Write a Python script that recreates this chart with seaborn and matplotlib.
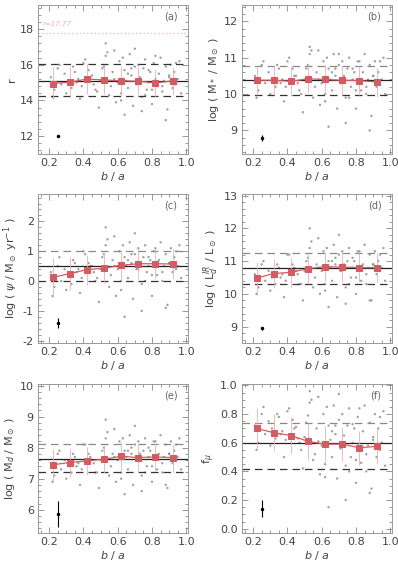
import numpy as np
import pandas as pd
import matplotlib
matplotlib.use("Agg")
import matplotlib.pyplot as plt
from matplotlib.ticker import AutoMinorLocator
import seaborn as sns

# ─── Data ─────────────────────────────────────────────────────────────────────

# b/a of the individual galaxies (shared by all panels)
BA = [0.21, 0.23, 0.25, 0.27, 0.29, 0.22, 0.26, 0.31, 0.33, 0.35,
      0.30, 0.34, 0.37, 0.39, 0.41, 0.36, 0.38, 0.43, 0.45, 0.47,
      0.40, 0.44, 0.46, 0.49, 0.51, 0.53, 0.48, 0.50, 0.52, 0.55,
      0.57, 0.54, 0.56, 0.58, 0.59, 0.61, 0.60, 0.62, 0.64, 0.63,
      0.65, 0.66, 0.67, 0.68, 0.69, 0.70, 0.71, 0.72, 0.73, 0.74,
      0.75, 0.76, 0.77, 0.78, 0.79, 0.80, 0.81, 0.82, 0.83, 0.84,
      0.85, 0.86, 0.87, 0.88, 0.89, 0.90, 0.91, 0.92, 0.93, 0.94,
      0.95, 0.96, 0.97, 0.58, 0.62, 0.66, 0.70, 0.74, 0.78, 0.82,
      0.86, 0.90, 0.94, 0.64, 0.72, 0.80, 0.88, 0.53, 0.68, 0.76]

R_MAG = [15.3, 14.6, 15.8, 14.9, 15.5, 14.2, 16.0, 15.1, 14.7, 15.6,
         14.4, 15.9, 15.2, 14.8, 16.3, 15.0, 14.1, 15.7, 15.4, 14.6,
         16.1, 15.3, 14.9, 13.6, 15.8, 16.5, 14.5, 15.1, 15.9, 14.3,
         15.6, 16.7, 14.8, 15.2, 13.9, 16.2, 15.0, 14.4, 15.7, 16.4,
         15.1, 14.7, 16.6, 15.4, 13.7, 15.9, 14.9, 16.0, 15.3, 14.2,
         15.8, 16.3, 14.6, 15.0, 15.6, 13.8, 16.1, 15.2, 14.8, 15.5,
         16.4, 14.5, 15.1, 15.9, 13.5, 15.3, 16.0, 14.7, 15.6, 14.9,
         15.2, 16.2, 14.4, 16.8, 14.0, 15.5, 16.9, 13.4, 15.7, 16.5,
         14.8, 15.4, 16.1, 13.2, 15.0, 14.6, 12.9, 17.2, 15.8, 14.3]

LOG_MSTAR = [10.5, 10.1, 10.8, 10.3, 10.6, 9.9, 10.9, 10.4, 10.2, 10.7,
             10.0, 10.8, 10.4, 10.2, 11.0, 10.3, 9.8, 10.7, 10.5, 10.1,
             10.9, 10.5, 10.3, 9.5, 10.7, 11.1, 10.0, 10.4, 10.8, 9.9,
             10.6, 11.2, 10.2, 10.4, 9.7, 10.9, 10.3, 10.0, 10.7, 11.0,
             10.4, 10.1, 11.1, 10.5, 9.6, 10.8, 10.3, 10.9, 10.5, 9.9,
             10.7, 11.0, 10.2, 10.4, 10.6, 9.6, 10.9, 10.4, 10.1, 10.6,
             11.1, 10.0, 10.4, 10.8, 9.4, 10.5, 10.9, 10.2, 10.6, 10.3,
             10.4, 11.0, 10.0, 11.2, 9.8, 10.6, 11.1, 9.2, 10.7, 10.9,
             10.2, 10.5, 10.9, 9.1, 10.3, 10.1, 9.0, 11.3, 10.7, 9.9]

LOG_SFR = [0.3, -0.2, 0.5, 0.0, 0.4, -0.5, 0.8, 0.2, -0.1, 0.6,
           -0.3, 0.7, 0.4, 0.1, 0.9, 0.3, -0.4, 0.6, 0.5, 0.0,
           1.0, 0.5, 0.3, -0.7, 0.8, 1.2, 0.1, 0.4, 0.9, -0.2,
           0.7, 1.4, 0.2, 0.5, -0.5, 1.0, 0.4, 0.0, 0.8, 1.2,
           0.5, 0.1, 1.3, 0.6, -0.6, 0.9, 0.4, 1.1, 0.6, -0.1,
           0.8, 1.2, 0.3, 0.5, 0.7, -0.5, 1.0, 0.5, 0.2, 0.7,
           1.3, 0.0, 0.5, 0.9, -0.8, 0.6, 1.1, 0.3, 0.8, 0.4,
           0.5, 1.2, 0.1, 1.5, -0.3, 0.7, 1.6, -1.0, 0.8, 1.1,
           0.3, 0.6, 1.0, -1.2, 0.4, 0.2, -0.9, 1.8, 0.9, 0.0]

LOG_LIR = [10.6, 10.2, 10.9, 10.4, 10.7, 10.0, 11.0, 10.5, 10.3, 10.8,
           10.1, 10.9, 10.6, 10.4, 11.2, 10.5, 9.9, 10.9, 10.7, 10.3,
           11.2, 10.8, 10.6, 9.8, 11.0, 11.4, 10.3, 10.7, 11.1, 10.2,
           10.9, 11.6, 10.5, 10.8, 10.0, 11.3, 10.7, 10.3, 11.0, 11.4,
           10.8, 10.4, 11.5, 10.9, 9.9, 11.2, 10.7, 11.3, 10.9, 10.2,
           11.0, 11.4, 10.5, 10.8, 11.0, 10.0, 11.3, 10.8, 10.4, 10.9,
           11.5, 10.3, 10.8, 11.2, 9.8, 10.9, 11.3, 10.6, 11.0, 10.7,
           10.8, 11.4, 10.4, 11.7, 10.1, 11.0, 11.8, 9.7, 11.1, 11.3,
           10.6, 10.9, 11.2, 9.6, 10.7, 10.5, 9.8, 12.0, 11.1, 10.3]

LOG_MDUST = [7.5, 7.1, 7.8, 7.3, 7.6, 6.9, 7.9, 7.4, 7.2, 7.7,
             7.0, 7.8, 7.5, 7.3, 8.1, 7.4, 6.8, 7.8, 7.6, 7.2,
             8.1, 7.7, 7.5, 6.7, 7.9, 8.3, 7.2, 7.6, 8.0, 7.1,
             7.8, 8.5, 7.4, 7.7, 6.9, 8.2, 7.6, 7.2, 7.9, 8.3,
             7.7, 7.3, 8.4, 7.8, 6.8, 8.1, 7.6, 8.2, 7.8, 7.1,
             7.9, 8.3, 7.4, 7.7, 7.9, 6.9, 8.2, 7.7, 7.3, 7.8,
             8.4, 7.2, 7.7, 8.1, 6.7, 7.8, 8.2, 7.5, 7.9, 7.6,
             7.7, 8.3, 7.3, 8.6, 7.0, 7.9, 8.7, 6.6, 8.0, 8.2,
             7.5, 7.8, 8.1, 6.5, 7.6, 7.4, 6.8, 8.9, 8.0, 7.2]

F_MU = [0.72, 0.60, 0.80, 0.66, 0.75, 0.55, 0.85, 0.70, 0.63, 0.78,
        0.58, 0.80, 0.68, 0.62, 0.84, 0.66, 0.50, 0.76, 0.71, 0.60,
        0.82, 0.70, 0.63, 0.42, 0.74, 0.88, 0.55, 0.64, 0.79, 0.48,
        0.70, 0.90, 0.52, 0.61, 0.38, 0.80, 0.58, 0.45, 0.72, 0.85,
        0.62, 0.50, 0.86, 0.66, 0.35, 0.76, 0.56, 0.80, 0.65, 0.44,
        0.72, 0.84, 0.50, 0.60, 0.70, 0.32, 0.78, 0.58, 0.46, 0.68,
        0.86, 0.40, 0.58, 0.74, 0.28, 0.62, 0.80, 0.50, 0.70, 0.55,
        0.60, 0.82, 0.44, 0.92, 0.36, 0.68, 0.94, 0.20, 0.73, 0.84,
        0.52, 0.64, 0.78, 0.15, 0.58, 0.48, 0.25, 0.96, 0.72, 0.40]

# binned medians (red squares) and their scatter
BIN_BA = [0.22, 0.32, 0.42, 0.52, 0.62, 0.72, 0.82, 0.92]

BIN_R = [14.95, 15.02, 15.20, 15.15, 15.10, 15.08, 14.98, 15.10]
BIN_MSTAR = [10.38, 10.38, 10.35, 10.42, 10.40, 10.38, 10.37, 10.33]
BIN_SFR = [0.12, 0.25, 0.38, 0.43, 0.53, 0.58, 0.58, 0.57]
BIN_LIR = [10.48, 10.62, 10.66, 10.77, 10.83, 10.82, 10.80, 10.80]
BIN_MDUST = [7.45, 7.52, 7.57, 7.63, 7.72, 7.68, 7.70, 7.68]
BIN_FMU = [0.700, 0.670, 0.650, 0.610, 0.590, 0.590, 0.565, 0.575]

ERR_R = [0.95, 0.85, 0.85, 0.80, 0.85, 0.80, 0.80, 0.80]
ERR_MSTAR = [0.40, 0.40, 0.40, 0.40, 0.40, 0.40, 0.40, 0.40]
ERR_SFR = [0.65, 0.55, 0.50, 0.50, 0.50, 0.50, 0.50, 0.50]
ERR_LIR = [0.50, 0.45, 0.45, 0.45, 0.45, 0.45, 0.45, 0.45]
ERR_MDUST = [0.50, 0.45, 0.45, 0.45, 0.45, 0.45, 0.45, 0.45]
ERR_FMU = [0.14, 0.13, 0.13, 0.13, 0.13, 0.12, 0.12, 0.12]

# full-sample median and +/- scatter lines
MEDIAN = [15.10, 10.38, 0.50, 10.78, 7.65, 0.60]
UPPER = [16.05, 10.78, 1.00, 11.25, 8.12, 0.74]
LOWER = [14.25, 9.97, 0.00, 10.30, 7.20, 0.42]

# typical measurement error shown in the lower-left corner
TYP_Y = [12.0, 8.8, -1.4, 8.95, 5.85, 0.14]
TYP_ERR = [0.03, 0.08, 0.16, 0.05, 0.42, 0.06]

PANEL_TAGS = ["(a)", "(b)", "(c)", "(d)", "(e)", "(f)"]
YLABELS = [r"r",
           r"log ( M$_*$ / M$_\odot$ )",
           r"log ( $\psi$ / M$_\odot$ yr$^{-1}$ )",
           r"log ( L$_d^{IR}$ / L$_\odot$ )",
           r"log ( M$_d$ / M$_\odot$ )",
           r"f$_\mu$"]
YLIMS = [(11.0, 19.35), (8.35, 12.45), (-2.08, 2.92),
         (8.5, 13.05), (5.25, 10.05), (-0.03, 1.01)]
YTICKS = [[12, 14, 16, 18], [9, 10, 11, 12], [-2, -1, 0, 1, 2],
          [9, 10, 11, 12, 13], [6, 7, 8, 9, 10],
          [0.0, 0.2, 0.4, 0.6, 0.8, 1.0]]

R_LIMIT = 17.77

# ─── Plot ─────────────────────────────────────────────────────────────────────

sns.set_style("ticks")
plt.rcParams["font.family"] = ["DejaVu Sans"]
plt.rcParams["mathtext.fontset"] = "dejavusans"

POINT_Y = [R_MAG, LOG_MSTAR, LOG_SFR, LOG_LIR, LOG_MDUST, F_MU]
BIN_Y = [BIN_R, BIN_MSTAR, BIN_SFR, BIN_LIR, BIN_MDUST, BIN_FMU]
BIN_ERR = [ERR_R, ERR_MSTAR, ERR_SFR, ERR_LIR, ERR_MDUST, ERR_FMU]

RED = "#d25c62"
PINK = "#efb0b4"
TXT = "#444444"

fig = plt.figure(figsize=(3.98, 5.73), dpi=100)
col_left = [38 / 398, 242 / 398]
col_w = 150 / 398
row_bottom = [1 - 154 / 573, 1 - 343 / 573, 1 - 533 / 573]
row_h = 149 / 573

for i in range(6):
    r, c = divmod(i, 2)
    ax = fig.add_axes([col_left[c], row_bottom[r], col_w, row_h])

    pts = pd.DataFrame({"ba": BA, "y": POINT_Y[i]})
    sns.scatterplot(data=pts, x="ba", y="y", ax=ax, s=3, color="#8a8a8a",
                    edgecolor="none", alpha=0.8, legend=False, zorder=1)

    ax.axhline(MEDIAN[i], color="#222222", lw=0.9, zorder=2)
    up_col = "#333333" if i == 0 else "#888888"
    ax.axhline(UPPER[i], color=up_col, lw=0.9, ls=(0, (6, 4)), zorder=2)
    ax.axhline(LOWER[i], color="#333333", lw=0.9, ls=(0, (6, 4)), zorder=2)

    ax.errorbar(BIN_BA, BIN_Y[i], yerr=BIN_ERR[i], fmt="none",
                ecolor=PINK, elinewidth=0.6, capsize=0, zorder=3)
    bins = pd.DataFrame({"ba": BIN_BA, "y": BIN_Y[i]})
    sns.lineplot(data=bins, x="ba", y="y", ax=ax, color=RED, lw=0.9,
                 marker="s", markersize=4.5, markeredgecolor=RED,
                 legend=False, zorder=4)

    ax.errorbar([0.25], [TYP_Y[i]], yerr=[TYP_ERR[i]], fmt="o",
                color="black", ms=1.5, elinewidth=0.8, capsize=0, zorder=5)

    if i == 0:
        ax.axhline(R_LIMIT, color=PINK, lw=0.9, ls=(0, (1, 2)), zorder=2)
        ax.text(0.165, R_LIMIT + 0.35, f"r={R_LIMIT:.2f}", color=PINK,
                fontsize=5, style="italic", va="bottom", ha="left")

    ax.text(0.93, 0.92, PANEL_TAGS[i], transform=ax.transAxes,
            ha="right", va="center", fontsize=7, color="#666666")

    ax.set_xlim(0.135, 1.01)
    ax.set_ylim(*YLIMS[i])
    ax.set_xticks([0.2, 0.4, 0.6, 0.8, 1.0])
    ax.set_xticklabels(["0.2", "0.4", "0.6", "0.8", "1.0"])
    ax.set_yticks(YTICKS[i])
    if i == 5:
        ax.set_yticklabels([f"{v:.1f}" for v in YTICKS[i]])
    else:
        ax.set_yticklabels([str(v) for v in YTICKS[i]])
    ax.xaxis.set_minor_locator(AutoMinorLocator(4))
    ax.yaxis.set_minor_locator(AutoMinorLocator(5 if i != 5 else 4))
    ax.tick_params(which="both", direction="in", top=True, right=True,
                   colors="#888888", labelcolor=TXT, labelsize=8,
                   width=0.6, pad=3)
    ax.tick_params(which="major", length=4)
    ax.tick_params(which="minor", length=2)
    for sp in ax.spines.values():
        sp.set_color("#999999")
        sp.set_linewidth(0.7)

    ax.set_xlabel(r"$b$ / $a$", fontsize=8, color=TXT, labelpad=1)
    ax.set_ylabel(YLABELS[i], fontsize=8, color=TXT, labelpad=2)

fig.savefig("out.png", dpi=100)
